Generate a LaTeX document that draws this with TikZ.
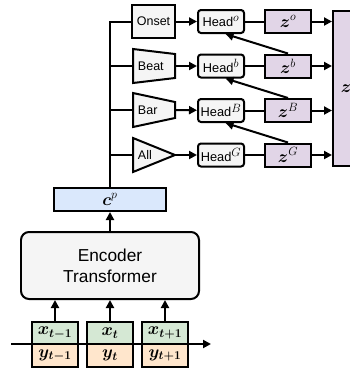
\documentclass[tikz,border=0pt]{standalone}
\usepackage[no-math]{fontspec}
\setmainfont{Liberation Sans}
\usepackage{amsmath}
\usepackage{bm}
\usetikzlibrary{arrows.meta}

\definecolor{grayfill}{HTML}{F5F5F5}
\definecolor{xgreen}{HTML}{D5E8D4}
\definecolor{yorange}{HTML}{FFE6CC}
\definecolor{cblue}{HTML}{DAE8FC}
\definecolor{zpurple}{HTML}{E1D5E7}

\begin{document}
\begin{tikzpicture}[x=1pt,y=-1pt,line width=2pt,
    >={Triangle[length=8pt,width=8pt]},
    lab/.style={font=\fontsize{12.5}{14}\selectfont},
    head/.style={draw,rounded corners=3pt,fill=grayfill,minimum width=46pt,minimum height=23pt,inner sep=0pt,font=\fontsize{12.8}{14}\selectfont},
    zbox/.style={draw,fill=zpurple,minimum width=46pt,minimum height=23pt,inner sep=0pt,font=\fontsize{17}{19}\selectfont},
    xbox/.style={draw,fill=xgreen,minimum width=46pt,minimum height=22pt,inner sep=0pt,font=\fontsize{17}{19}\selectfont},
    ybox/.style={draw,fill=yorange,minimum width=46pt,minimum height=23pt,inner sep=0pt,font=\fontsize{17}{19}\selectfont}]
    \clip (0,0) rectangle (350,376);

    \node[draw,fill=grayfill,minimum width=43pt,minimum height=33pt,inner sep=0pt,lab] (onset) at (153.5,21.5) {Onset};

    \filldraw[fill=grayfill] (133,49) -- (175,54) -- (175,78) -- (133,83) -- cycle;
    \filldraw[fill=grayfill] (133,93) -- (175,102) -- (175,118) -- (133,127) -- cycle;
    \filldraw[fill=grayfill] (133,138) -- (175,155) -- (133,172) -- cycle;
    \node[lab,anchor=west,inner sep=0pt] (beat) at (137,66) {Beat};
    \node[lab,anchor=west,inner sep=0pt] (bar) at (137,110) {Bar};
    \node[lab,anchor=west,inner sep=0pt] (all) at (137,155) {All};
    \coordinate (beat-in) at (133,66);
    \coordinate (beat-out) at (175,66);
    \coordinate (bar-in) at (133,110);
    \coordinate (bar-out) at (175,110);
    \coordinate (all-in) at (133,155);
    \coordinate (all-out) at (175,155);

    \node[head] (heado) at (221,21.5) {Head$^{\textstyle o}$};
    \node[head] (headb) at (221,66) {Head$^{\textstyle b}$};
    \node[head] (headB) at (221,110.5) {Head$^{\textstyle B}$};
    \node[head] (headG) at (221,155) {Head$^{\textstyle G}$};

    \node[zbox] (zo) at (288,21.5) {$\bm{z}^{o}$};
    \node[zbox] (zb) at (288,66) {$\bm{z}^{b}$};
    \node[zbox] (zB) at (288,110.5) {$\bm{z}^{B}$};
    \node[zbox] (zG) at (288,155) {$\bm{z}^{G}$};

    \node[draw,fill=zpurple,minimum width=26pt,minimum height=155pt,inner sep=0pt,anchor=west,font=\fontsize{17}{19}\selectfont] (z) at (332,88.5) {$\bm{z}$};

    \node[draw,fill=cblue,minimum width=112pt,minimum height=23pt,inner sep=0pt,font=\fontsize{17}{19}\selectfont] (cp) at (110,199.5) {$\bm{c}^{p}$};
    \node[draw,fill=grayfill,rounded corners=8pt,minimum width=178pt,minimum height=67pt,align=center,font=\fontsize{17.3}{21}\selectfont] (enc) at (110,265.5) {Encoder\\Transformer};

    \node[xbox] (x1) at (55,333) {$\bm{x_{t-1}}$};
    \node[ybox] (y1) at (55,355.5) {$\bm{y_{t-1}}$};
    \node[xbox] (x2) at (110,333) {$\bm{x_{t}}$};
    \node[ybox] (y2) at (110,355.5) {$\bm{y_{t}}$};
    \node[xbox] (x3) at (165,333) {$\bm{x_{t+1}}$};
    \node[ybox] (y3) at (165,355.5) {$\bm{y_{t+1}}$};

    \coordinate (t0) at (11,344);
    \coordinate (t1) at (211,344);
    \draw[->] (t0) -- (t1);

    \foreach \n in {1,2,3}
        \draw[->] (x\n) -- (x\n |- enc.south);
    \draw[->] (enc) -- (cp);

    \draw (cp.north) -- (cp.north |- onset.west) -- (onset.west);
    \foreach \s in {beat,bar,all}
        \draw (cp.north |- \s-in) -- (\s-in);

    \draw[->] (onset) -- (heado);
    \draw[->] (beat-out) -- (headb);
    \draw[->] (bar-out) -- (headB);
    \draw[->] (all-out) -- (headG);

    \draw (heado) -- (zo);
    \draw (headb) -- (zb);
    \draw (headB) -- (zB);
    \draw (headG) -- (zG);

    \draw[->] (zo) -- (zo -| z.west);
    \draw[->] (zb) -- (zb -| z.west);
    \draw[->] (zB) -- (zB -| z.west);
    \draw[->] (zG) -- (zG -| z.west);

    \draw[->] (zb.north) -- (heado.-70);
    \draw[->] (zB.north) -- (headb.-70);
    \draw[->] (zG.north) -- (headB.-70);
\end{tikzpicture}
\end{document}
